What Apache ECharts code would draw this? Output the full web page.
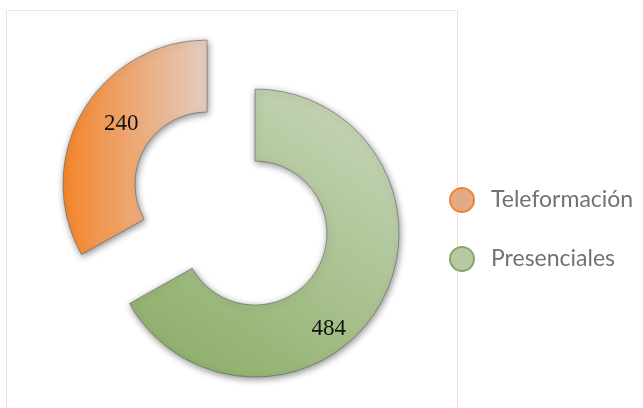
<!DOCTYPE html>
<html>
<head>
<meta charset="utf-8">
<script src="https://cdn.jsdelivr.net/npm/echarts@6/dist/echarts.min.js"></script>
<style>
html,body{margin:0;padding:0;background:#fff;}
#chart{width:643px;height:408px;}
</style>
</head>
<body>
<div id="chart"></div>
<script>
const categories = ['Presenciales', 'Teleformación'];
const values = [484, 240];
const legendOrder = ['Teleformación', 'Presenciales'];

const fills = {
  'Presenciales': new echarts.graphic.LinearGradient(0, 1, 0.7, 0, [
    {offset: 0, color: '#88ab63'},
    {offset: 1, color: '#c4d3b4'}
  ]),
  'Teleformación': new echarts.graphic.LinearGradient(0, 0, 1, 0, [
    {offset: 0, color: '#f4852a'},
    {offset: 1, color: '#e4cdc2'}
  ])
};
const legendStyle = {
  'Teleformación': {color: '#e3aa86', borderColor: '#ea873a', borderWidth: 2},
  'Presenciales': {color: '#b7c8a3', borderColor: '#86a86a', borderWidth: 2}
};
const nudge = {'Presenciales': [-22, 40], 'Teleformación': [10, -4]};

const sliceStyle = {
  borderColor: 'rgba(90,90,90,0.55)',
  borderWidth: 1,
  shadowBlur: 7,
  shadowColor: 'rgba(0,0,0,0.45)',
  shadowOffsetX: 1,
  shadowOffsetY: 2
};
const hidden = {color: 'rgba(0,0,0,0)', borderWidth: 0, shadowBlur: 0, shadowColor: 'rgba(0,0,0,0)'};

// one ring per visible category (the other category kept as an invisible gap), so the
// exploded slice can be shifted toward the upper-left as in the reference
function ring(visibleName, center) {
  return {
    type: 'pie',
    center: center,
    radius: [72, 144],
    startAngle: 90,
    clockwise: true,
    silent: true,
    avoidLabelOverlap: false,
    emphasis: {disabled: true},
    label: {
      position: 'inside',
      formatter: '{c}',
      fontFamily: 'Liberation Serif',
      fontSize: 23,
      color: '#111'
    },
    labelLine: {show: false},
    labelLayout: function (p) {
      const n = categories[p.dataIndex];
      return {dx: nudge[n][0], dy: nudge[n][1]};
    },
    itemStyle: sliceStyle,
    data: categories.map((n, i) => ({
      name: n,
      value: values[i],
      label: {show: n === visibleName},
      itemStyle: n === visibleName ? {color: fills[n]} : hidden
    }))
  };
}

const chart = echarts.init(document.getElementById('chart'), null, {renderer: 'canvas'});
chart.setOption({
  animation: false,
  backgroundColor: '#ffffff',
  graphic: [{
    type: 'rect', silent: true, z: -1,
    shape: {x: 6.5, y: 10.5, width: 451, height: 420},
    style: {fill: 'none', stroke: '#f6e0d3', lineWidth: 1}
  }],
  legend: {
    orient: 'vertical',
    left: 444,
    top: 182,
    icon: 'circle',
    itemWidth: 24,
    itemHeight: 24,
    itemGap: 33,
    textStyle: {fontFamily: 'Lato', fontSize: 23, color: '#727272', padding: [0, 0, 0, 12]},
    data: legendOrder.map(n => ({name: n, itemStyle: legendStyle[n]}))
  },
  series: [
    ring('Presenciales', [255, 233]),
    ring('Teleformación', [207, 184])
  ]
});
</script>
</body>
</html>
